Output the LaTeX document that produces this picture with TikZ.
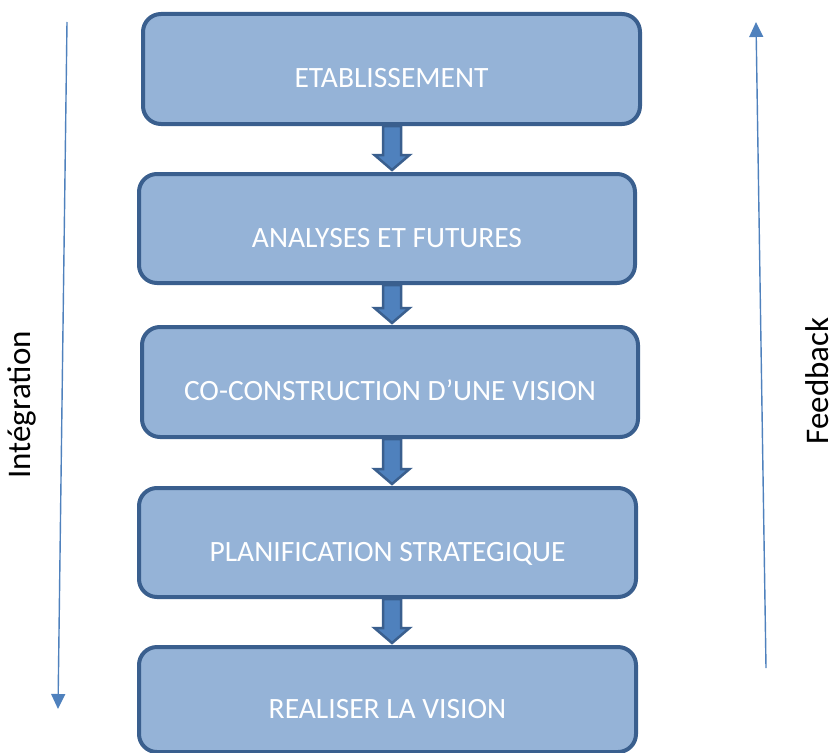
\documentclass[tikz,border=0pt]{standalone}
\usepackage{fontspec}
\setmainfont{Carlito}
\usetikzlibrary{calc,arrows.meta}
\definecolor{boxfill}{HTML}{95B3D7}
\definecolor{boxline}{HTML}{3A5F8E}
\definecolor{arrfill}{HTML}{4F81BD}
\tikzset{
  stagebox/.style={draw=boxline, line width=4pt, fill=boxfill, rounded corners=18pt,
    text=white, font=\fontsize{29.5}{34}\selectfont, anchor=north west, inner sep=0pt,
    text height=37pt, text depth=0pt},
  blockarr/.style={draw=boxline, fill=arrfill, line width=2.5pt, line join=miter},
  sidearr/.style={draw=arrfill, line width=1.4pt, -{Triangle[width=14pt,length=15pt]}},
  sidelabel/.style={font=\fontsize{33}{38}\selectfont, rotate=90, inner sep=0pt}
}
\newcommand\stagearrow[2]{%
  \filldraw[blockarr]
    ($(#1.south -| ax)+(-9,0)$) -- ($(#2.north -| ax)+(-9,17)$) -- ($(#2.north -| ax)+(-17.5,17)$)
    -- ($(#2.north -| ax)+(0,2)$) -- ($(#2.north -| ax)+(17.5,17)$) -- ($(#2.north -| ax)+(9,17)$)
    -- ($(#1.south -| ax)+(9,0)$) -- cycle;}
\begin{document}
\begin{tikzpicture}[x=1pt,y=1pt]
\useasboundingbox (0,0) rectangle (834,-752);
\coordinate (ax) at (392,0);
\node[stagebox, minimum width=497pt, minimum height=110pt] (b1) at (141,-12) {ETABLISSEMENT};
\node[stagebox, minimum width=496pt, minimum height=109pt] (b2) at (137,-172) {ANALYSES ET FUTURES};
\node[stagebox, minimum width=496pt, minimum height=110pt] (b3) at (140,-325) {CO-CONSTRUCTION D’UNE VISION};
\node[stagebox, minimum width=497pt, minimum height=109pt] (b4) at (137,-486) {PLANIFICATION STRATEGIQUE};
\node[stagebox, minimum width=497pt, minimum height=105pt] (b5) at (137,-645) {REALISER LA VISION};
\stagearrow{b1}{b2}
\stagearrow{b2}{b3}
\stagearrow{b3}{b4}
\stagearrow{b4}{b5}
\coordinate (lt) at (67,-22);
\coordinate (lb) at (58,-709);
\draw[sidearr] (lt) -- (lb);
\coordinate (rb) at (766,-668);
\coordinate (rt) at (756,-22);
\draw[sidearr] (rb) -- (rt);
\node[sidelabel] (lint) at (22,-405) {Intégration};
\node[sidelabel] (lfeed) at (817,-381) {Feedback};
\end{tikzpicture}
\end{document}
